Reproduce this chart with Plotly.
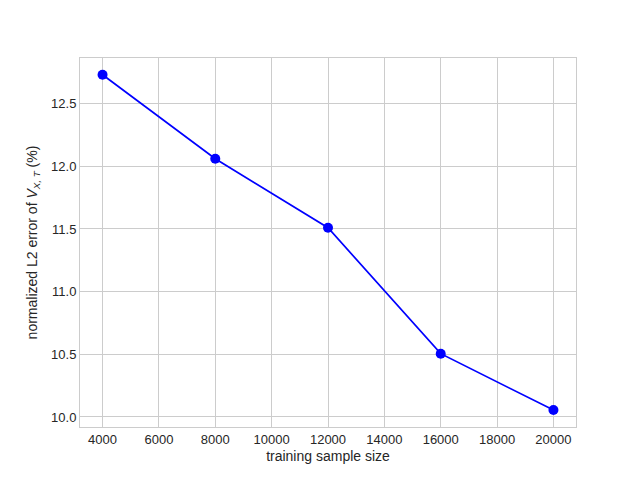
import plotly.graph_objects as go

# данные с графика
sample_size = [4000, 8000, 12000, 16000, 20000]
l2_error = [12.73, 12.06, 11.51, 10.505, 10.055]

x_ticks = [4000, 6000, 8000, 10000, 12000, 14000, 16000, 18000, 20000]
y_ticks = [10.0, 10.5, 11.0, 11.5, 12.0, 12.5]

fig = go.Figure()
fig.add_trace(go.Scatter(
    x=sample_size,
    y=l2_error,
    mode="lines+markers",
    line=dict(color="#0000ff", width=1.7),
    marker=dict(color="#0000ff", size=10),
    showlegend=False,
))

axis_style = dict(
    showgrid=True,
    gridcolor="#cccccc",
    gridwidth=1,
    zeroline=False,
    showline=True,
    linecolor="#cccccc",
    linewidth=1,
    mirror=True,
    ticks="",
    tickfont=dict(family="Liberation Sans, DejaVu Sans", size=13, color="#262626"),
    title_font=dict(family="Liberation Sans, DejaVu Sans", size=14, color="#262626"),
)

fig.update_xaxes(
    range=[3200, 20800],
    tickvals=x_ticks,
    ticktext=[str(v) for v in x_ticks],
    title_text="training sample size",
    title_standoff=5,
    **axis_style,
)
fig.update_yaxes(
    range=[9.92, 12.864],
    tickvals=y_ticks,
    ticktext=[f"{v:.1f}" for v in y_ticks],
    title_text="normalized L2 error of <i>V</i><sub><i>X, T</i></sub> (%)",
    title_standoff=10,
    **axis_style,
)

# страница сдвигает рисунок на 8px (отступ body), поэтому поля меньше
fig.update_layout(
    width=632,
    height=472,
    plot_bgcolor="white",
    paper_bgcolor="white",
    margin=dict(l=72, r=64, t=50, b=53),
)

fig.write_html("out.html")
